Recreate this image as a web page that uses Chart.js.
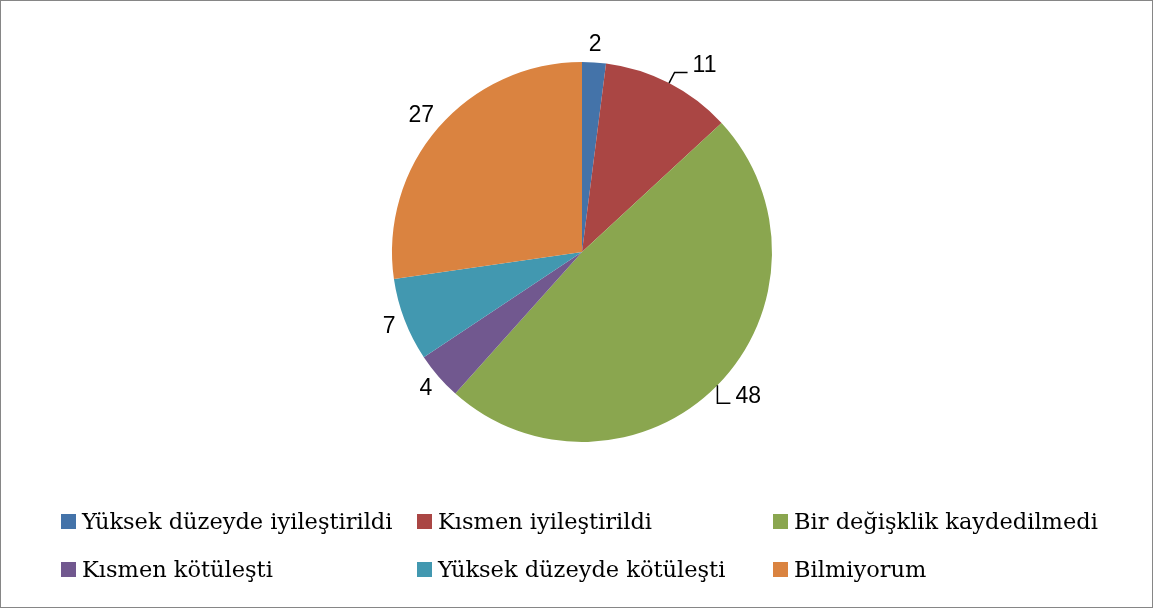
<!DOCTYPE html>
<html>
<head>
<meta charset="utf-8">
<script src="https://cdn.jsdelivr.net/npm/chart.js@4.4.0/dist/chart.umd.min.js"></script>
<style>
	body { margin: 0; background: #fff; }
	#kutu { position: relative; width: 1153px; height: 609px; }
	#kutu canvas { position: absolute; left: 0; top: 0; }
	#cerceve { position: absolute; left: 0; top: 0; width: 1151px; height: 606px; border: 1px solid #868686; pointer-events: none; }
	#lejant { position: absolute; left: 61px; top: 505px; display: grid; grid-template-columns: 356px 356px auto; grid-auto-rows: 48px; font-family: "DejaVu Serif"; font-size: 22.5px; color: #000; }
	.oge { display: flex; align-items: center; height: 32px; white-space: nowrap; }
	.kare { width: 15px; height: 15px; margin-right: 6px; flex: none; }
</style>
</head>
<body>
<div id="kutu">
	<canvas id="grafikPasta" width="1153" height="609"></canvas>
	<div id="lejant"></div>
	<div id="cerceve"></div>
</div>
<script>
// veriler
var kategoriler = ['Yüksek düzeyde iyileştirildi', 'Kısmen iyileştirildi', 'Bir değişklik kaydedilmedi',
	'Kısmen kötüleşti', 'Yüksek düzeyde kötüleşti', 'Bilmiyorum'];
var degerler = [2, 11, 48, 4, 7, 27];

var renkler = ['#4473A9', '#AA4644', '#8AA64F', '#71588F', '#4298B0', '#DA8340'];
var cizgili = [false, true, true, false, false, false]; // etiket için kılavuz çizgisi

// dilim etiketleri (Excel tarzı)
var etiketEklentisi = {
	id: 'etiketler',
	afterDatasetsDraw: function(chart) {
		var ctx = chart.ctx;
		var meta = chart.getDatasetMeta(0);
		ctx.save();
		ctx.font = '23px "Liberation Sans"';
		ctx.fillStyle = '#000';
		ctx.strokeStyle = '#000';
		ctx.lineWidth = 1.5;
		ctx.textBaseline = 'middle';
		meta.data.forEach(function(arc, i) {
			var p = arc.getProps(['x', 'y', 'startAngle', 'endAngle', 'outerRadius'], true);
			var orta = (p.startAngle + p.endAngle) / 2;
			var dx = Math.cos(orta), dy = Math.sin(orta);
			var metin = String(degerler[i]);
			var w = ctx.measureText(metin).width, h = 16;
			if (cizgili[i]) {
				var x0 = p.x + dx * p.outerRadius, y0 = p.y + dy * p.outerRadius;
				// üst yarıda çapraz, alt yarıda dikey kılavuz
				var x1 = dy < 0 ? x0 + dx * 12 : x0;
				var y1 = dy < 0 ? y0 + dy * 12 : y0 + 18;
				var yon = dx >= 0 ? 1 : -1;
				var x2 = x1 + 13 * yon;
				ctx.beginPath();
				ctx.moveTo(x0, y0);
				ctx.lineTo(x1, y1);
				ctx.lineTo(x2, y1);
				ctx.stroke();
				ctx.textAlign = yon > 0 ? 'left' : 'right';
				ctx.fillText(metin, x2 + 5 * yon, y1 - 7);
			} else {
				var r = p.outerRadius + 10;
				ctx.textAlign = 'center';
				ctx.fillText(metin, p.x + dx * r + dx * w / 2, p.y + dy * r + dy * h / 2);
			}
		});
		ctx.restore();
	}
};

var grafik = new Chart(document.getElementById('grafikPasta').getContext('2d'), {
	type: 'pie',
	data: {
		labels: kategoriler,
		datasets: [{
			data: degerler,
			backgroundColor: renkler,
			borderWidth: 0
		}]
	},
	options: {
		responsive: false,
		animation: false,
		layout: { padding: { top: 62, bottom: 167, left: 392, right: 381 } },
		plugins: {
			legend: { display: false },
			tooltip: { enabled: false }
		}
	},
	plugins: [etiketEklentisi]
});

// lejant
var lejant = document.getElementById('lejant');
kategoriler.forEach(function(ad, i) {
	var oge = document.createElement('div');
	oge.className = 'oge';
	var kare = document.createElement('span');
	kare.className = 'kare';
	kare.style.background = renkler[i];
	oge.appendChild(kare);
	oge.appendChild(document.createTextNode(ad));
	lejant.appendChild(oge);
});
</script>
</body>
</html>
